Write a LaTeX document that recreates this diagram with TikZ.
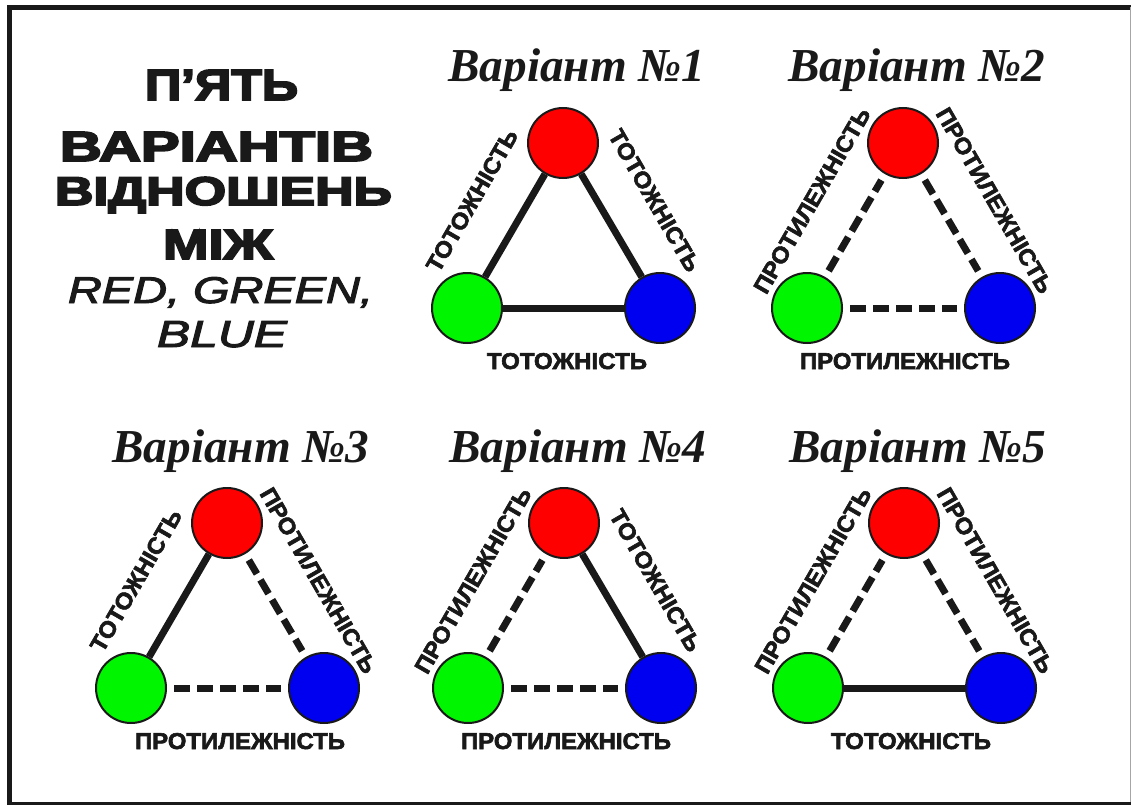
\documentclass[tikz,border=0pt]{standalone}
\usepackage{fontspec}
\usetikzlibrary{backgrounds}
\pgfdeclarelayer{paper}
\pgfsetlayers{paper,background,main}
\newfontfamily\heavyfont{Liberation Sans Bold}[FakeBold=4]
\newfontfamily\labelfont{Liberation Sans Bold}[FakeBold=2.5]
\newfontfamily\headitfont{Liberation Sans Italic}[FakeBold=2.5]
\newfontfamily\titlefont{Liberation Serif Bold Italic}
\definecolor{cred}{RGB}{255,0,0}
\definecolor{cgreen}{RGB}{0,245,0}
\definecolor{cblue}{RGB}{0,0,240}
\definecolor{ink}{RGB}{25,25,25}
\def\lbltot{\resizebox{160pt}{16pt}{\labelfont ТОТОЖНІСТЬ}}
\def\lblprot{\resizebox{210pt}{16pt}{\labelfont ПРОТИЛЕЖНІСТЬ}}
\tikzset{
  ball/.style={circle, draw=ink, line width=2pt, minimum size=70pt, inner sep=0pt},
  tot/.style={line width=7pt, draw=ink},
  prot/.style={tot, dash pattern=on 16pt off 7pt, shorten >=7pt, shorten <=7pt},
  txt/.style={inner sep=0pt, text=ink},
}
% #1 id, #2 red x, #3 red y, #4 number, #5 left, #6 right, #7 bottom, #8 bottom label x shift
\newcommand\variant[8]{%
  \node[txt, anchor=base] (#1t) at ({#2+14},{#3-61}) {\resizebox{257pt}{!}{\titlefont Варіант №#4}};
  \node[ball, fill=cred] (#1r) at (#2,#3) {};
  \node[ball, fill=cgreen] (#1g) at ({#2-96},{#3+165}) {};
  \node[ball, fill=cblue] (#1b) at ({#2+97},{#3+165}) {};
  \begin{scope}[on background layer]
    \draw[#5] (#1g) -- (#1r);
    \draw[#6] (#1r) -- (#1b);
    \draw[#7] (#1g) -- (#1b);
  \end{scope}
  \node[txt, rotate=60] (#1ll) at ({#2-91},{#3+57.5}) {\csname lbl#5\endcsname};
  \node[txt, rotate=-60] (#1rl) at ({#2+91.5},{#3+57.5}) {\csname lbl#6\endcsname};
  \node[txt, anchor=base] (#1bl) at ({#2+#8},{#3+226}) {\csname lbl#7\endcsname};
}
\begin{document}
\begin{tikzpicture}[x=1pt,y=-1pt]
\useasboundingbox (0,0) rectangle (1131,805);
\begin{pgfonlayer}{paper}
\fill[white] (0,0) rectangle (1131,805);
\end{pgfonlayer}
% frame
\draw[line width=4.5pt, ink, line cap=rect] (9.5,803) -- (9.5,7.5) -- (1131,7.5);
\draw[line width=3pt, ink] (7.25,803.5) -- (1131,803.5);
\draw[line width=1pt, black!35] (1130.5,7.5) -- (1130.5,802);
% heading
\node[txt, anchor=base] (h1) at (221.5,100) {\resizebox{153pt}{30pt}{\heavyfont П’ЯТЬ}};
\node[txt, anchor=base] (h2) at (216.5,161) {\resizebox{313pt}{29pt}{\heavyfont ВАРІАНТІВ}};
\node[txt, anchor=base] (h3) at (223.5,205) {\resizebox{337pt}{28pt}{\heavyfont ВІДНОШЕНЬ}};
\node[txt, anchor=base] (h4) at (218,259) {\resizebox{110pt}{29pt}{\heavyfont МІЖ}};
\node[txt, anchor=base] (h5) at (220.5,303) {\resizebox{305pt}{26pt}{\headitfont RED, GREEN,}};
\node[txt, anchor=base] (h6) at (222,347) {\resizebox{130pt}{26pt}{\headitfont BLUE}};
% variants
\variant{a}{563}{143}{1}{tot}{tot}{tot}{4}
\variant{b}{903}{143}{2}{prot}{prot}{prot}{2}
\variant{c}{227}{523}{3}{tot}{prot}{prot}{13}
\variant{d}{564}{523}{4}{prot}{tot}{prot}{2}
\variant{e}{904}{523}{5}{prot}{prot}{tot}{7}
\end{tikzpicture}
\end{document}
